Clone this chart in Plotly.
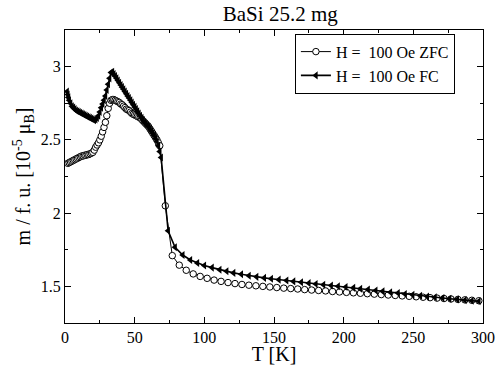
"""Magnetization vs temperature, ZFC / FC curves for BaSi."""

import plotly.graph_objects as go

FONT = "Liberation Serif"

# ZFC branch (open circles)
zfc_t = [
    2, 3, 4, 5, 6, 7, 8, 9, 10, 11, 12, 13, 14, 15, 16, 17, 18, 19, 20,
    21, 22, 23, 24, 25, 26, 27, 28, 29, 30, 31, 32, 33, 34, 35, 36, 37, 38,
    39, 40, 41, 42, 43, 44, 45, 46, 47, 48, 49, 50, 51, 52, 53, 54, 55, 56,
    57, 58, 59, 60, 61, 62, 63, 64, 65, 66, 67, 68,
    72, 77, 82, 87, 92, 97, 102, 107, 112, 117, 122, 127, 132, 137, 142,
    147, 152, 157, 162, 167, 172, 177, 182, 187, 192, 197, 202, 207, 212,
    217, 222, 227, 232, 237, 242, 247, 252, 257, 262, 267, 272, 277, 282,
    287, 292, 297,
]
zfc_m = [
    2.34, 2.345, 2.35, 2.355, 2.36, 2.365, 2.37, 2.375, 2.38, 2.385, 2.39,
    2.39, 2.395, 2.395, 2.40, 2.40, 2.405, 2.41, 2.415,
    2.43, 2.45, 2.465, 2.48, 2.50, 2.525, 2.555, 2.585, 2.62, 2.665, 2.715,
    2.75, 2.77, 2.775, 2.775, 2.77, 2.765, 2.76,
    2.755, 2.745, 2.74, 2.73, 2.72, 2.71, 2.705, 2.70, 2.69, 2.68, 2.675,
    2.67, 2.665, 2.66, 2.655, 2.65, 2.64, 2.63,
    2.62, 2.61, 2.60, 2.59, 2.575, 2.56, 2.545, 2.53, 2.515, 2.50, 2.48, 2.46,
    2.05, 1.71, 1.645, 1.61, 1.585, 1.568, 1.555, 1.543, 1.534, 1.526,
    1.519, 1.513, 1.508, 1.504, 1.50,
    1.496, 1.492, 1.488, 1.485, 1.482, 1.478, 1.475, 1.472, 1.469, 1.465,
    1.462, 1.459, 1.456, 1.453,
    1.450, 1.447, 1.444, 1.441, 1.438, 1.435, 1.432, 1.429, 1.426, 1.423,
    1.420, 1.417, 1.414, 1.411,
    1.408, 1.405, 1.402,
]

# FC branch (filled left triangles)
fc_t = [
    1.5, 2, 2.5, 3, 4, 5, 6, 7, 8, 9, 10, 11, 12, 13, 14, 15, 16, 17, 18,
    19, 20, 21, 22, 23, 24, 25, 26, 27, 28, 29, 30, 31, 32, 33, 34, 35, 36,
    37, 38, 39, 40, 41, 42, 43, 44, 45, 46, 47, 48, 49, 50, 51, 52, 53, 54,
    55, 56, 57, 58, 59, 60, 61, 62, 63, 64, 65, 66, 67, 68, 69,
    74, 79, 84.5, 90, 95, 100, 105.5, 111, 116, 121, 126.5, 132, 137.5,
    143, 148, 153.5, 159, 164, 169.5, 175, 180, 185.5, 191, 196, 201.5,
    207, 212, 217.5, 223, 228, 233.5, 239, 244, 249.5, 255, 260, 265.5,
    271, 276, 281.5, 287, 292, 297,
]
fc_m = [
    2.83, 2.81, 2.79, 2.77, 2.75, 2.73, 2.72, 2.71, 2.70, 2.695, 2.69, 2.685,
    2.68, 2.675, 2.67, 2.665, 2.66, 2.655, 2.65,
    2.645, 2.64, 2.635, 2.64, 2.65, 2.665, 2.69, 2.72, 2.745, 2.77, 2.80,
    2.84, 2.88, 2.92, 2.96, 2.965, 2.95, 2.935,
    2.92, 2.905, 2.89, 2.875, 2.86, 2.845, 2.83, 2.815, 2.80, 2.785, 2.77,
    2.755, 2.74, 2.725, 2.71, 2.695, 2.68, 2.665,
    2.65, 2.635, 2.62, 2.61, 2.60, 2.59, 2.575, 2.56, 2.545, 2.53, 2.51,
    2.49, 2.46, 2.42, 2.38,
    1.88, 1.767, 1.714, 1.68, 1.66, 1.642, 1.628, 1.614, 1.603, 1.592,
    1.583, 1.573, 1.565,
    1.558, 1.552, 1.546, 1.540, 1.534, 1.528, 1.522, 1.516, 1.511, 1.506,
    1.501, 1.496,
    1.490, 1.484, 1.478, 1.472, 1.466, 1.460, 1.454, 1.448, 1.442, 1.436,
    1.431, 1.426,
    1.421, 1.416, 1.411, 1.406, 1.402, 1.398,
]

x_ticks = [0, 50, 100, 150, 200, 250, 300]
y_ticks = [1.5, 2, 2.5, 3]

fig = go.Figure()
fig.add_trace(
    go.Scatter(
        x=zfc_t,
        y=zfc_m,
        mode="lines+markers",
        name="H =\u00a0\u00a0100 Oe ZFC",
        line=dict(color="black", width=1),
        marker=dict(symbol="circle", size=6.5, color="white", line=dict(width=1, color="black")),
    )
)
fig.add_trace(
    go.Scatter(
        x=fc_t,
        y=fc_m,
        mode="lines+markers",
        name="H =\u00a0\u00a0100 Oe FC",
        line=dict(color="black", width=1.6),
        marker=dict(symbol="triangle-left", size=7, color="black"),
    )
)

axis_common = dict(
    automargin=False,
    showline=True,
    linecolor="black",
    linewidth=1,
    mirror="allticks",
    ticks="inside",
    ticklen=6,
    tickwidth=1,
    tickcolor="black",
    showgrid=False,
    zeroline=False,
    tickfont=dict(family=FONT, size=16, color="black"),
)

fig.update_xaxes(
    range=[0, 300],
    tickvals=x_ticks,
    minor=dict(dtick=25, ticks="inside", ticklen=3, tickcolor="black"),
    title=dict(text="T [K]", font=dict(family=FONT, size=20, color="black"), standoff=3),
    **axis_common,
)
fig.update_yaxes(
    range=[1.25, 3.25],
    tickvals=y_ticks,
    minor=dict(dtick=0.25, ticks="inside", ticklen=3, tickcolor="black"),
    title=dict(
        text="m / f. u. [10<sup>-5</sup> μ<sub>B</sub>]",
        font=dict(family=FONT, size=20, color="black"),
        standoff=4,
    ),
    **axis_common,
)

fig.update_layout(
    width=498,
    height=365,
    margin=dict(l=65, r=15, t=30, b=42),
    paper_bgcolor="white",
    plot_bgcolor="white",
    font=dict(family=FONT, color="black"),
    title=dict(
        text="BaSi 25.2 mg",
        font=dict(family=FONT, size=21, color="black"),
        x=0.515,
        xanchor="center",
        y=0.963,
        yanchor="middle",
        xref="paper",
    ),
    legend=dict(
        x=0.55,
        y=0.885,
        xanchor="left",
        yanchor="middle",
        bordercolor="black",
        borderwidth=1,
        bgcolor="white",
        font=dict(family=FONT, size=16, color="black"),
        tracegroupgap=0,
        itemwidth=30,
    ),
)

# the page body has a default 8px margin; drop it so the figure fills the window
fig.write_html(
    "out.html",
    config={"displayModeBar": False},
    post_script="document.body.style.margin = '0';",
)
